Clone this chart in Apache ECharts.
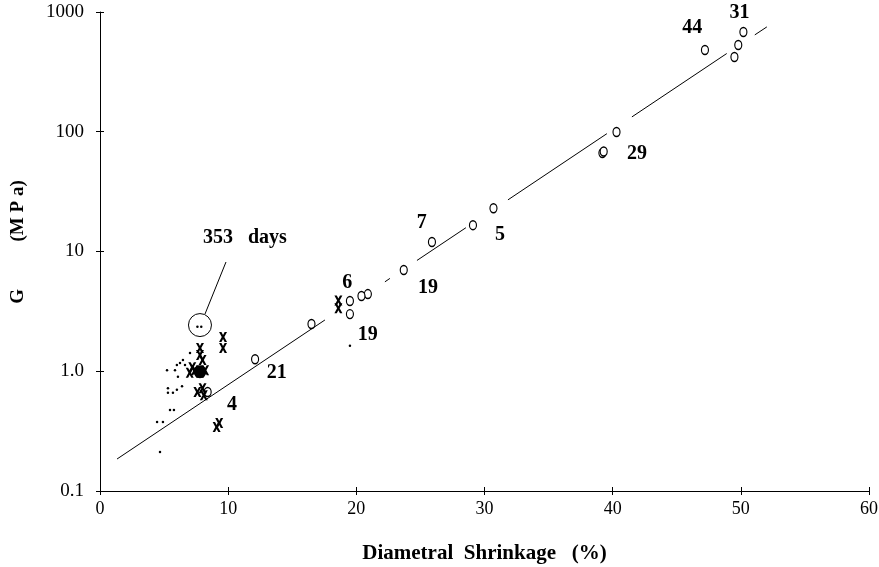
<!DOCTYPE html>
<html>
<head>
<meta charset="utf-8">
<script src="https://cdn.jsdelivr.net/npm/echarts@6/dist/echarts.min.js"></script>
<style>
  html, body { margin: 0; padding: 0; background: #fff; }
  #chart { width: 879px; height: 567px; }
</style>
</head>
<body>
<div id="chart"></div>
<script>
// open circles
const circleX = [47.2, 50.2, 49.8, 49.5, 40.3, 39.2, 39.3, 30.7, 29.1, 25.9, 23.7, 20.9, 20.4, 19.5, 19.5, 16.5, 12.1, 8.4]
const circleY = [482, 681, 530, 421, 99.6, 66.5, 68.5, 23, 16.6, 12.0, 7.0, 4.41, 4.25, 3.86, 3.0, 2.48, 1.26, 0.67]

// crosses
const crossX = [9.6, 9.6, 7.8, 7.8, 8.0, 7.2, 7.0, 7.8, 7.4, 8.2, 7.6, 8.1, 8.0, 9.1, 9.3, 18.6, 18.6]
const crossY = [1.93, 1.56, 1.56, 1.37, 1.24, 1.08, 0.97, 0.97, 1.02, 1.02, 0.67, 0.63, 0.72, 0.342, 0.37, 3.9, 3.36]

// solid blob of overlapping marks
const blobX = [7.8]
const blobY = [0.99]

// small dots
const dotX = [7.6, 7.9, 19.5, 7.02, 6.47, 6.24, 6.0, 6.63, 5.23, 5.85, 6.08, 5.3, 6.0, 6.4, 5.3, 5.69, 5.46, 5.77, 4.45, 4.91, 4.68]
const dotY = [2.35, 2.35, 1.63, 1.42, 1.24, 1.17, 1.13, 1.13, 1.02, 1.02, 0.90, 0.72, 0.70, 0.75, 0.66, 0.66, 0.474, 0.474, 0.377, 0.377, 0.212]

// fitted line, drawn in pieces as in the original
const fitSegments = [
  [[1.33, 0.185], [17.55, 2.68]],
  [[22.23, 5.58], [22.62, 5.96]],
  [[24.73, 8.42], [28.55, 15.8]],
  [[31.83, 27.0], [39.55, 96.4]],
  [[41.5, 133], [48.9, 450]],
  [[51.09, 644], [52.03, 751]]
]

// "353 days" callout
const ringPoint = [7.8, 2.43]
const leader = [[8.19, 3.0], [9.83, 8.17]]

// annotations
const labelText = ['44', '31', '29', '7', '5', '19', '6', '19', '21', '4', '353   days']
const labelX = [46.2, 49.9, 41.9, 25.1, 31.2, 25.6, 19.3, 20.9, 13.8, 10.3, 11.3]
const labelY = [735, 982, 65.2, 17.3, 13.7, 4.96, 5.45, 2.01, 0.97, 0.522, 12.97]

const yTickValues = [0.1, 1, 10, 100, 1000]
const yTickLabels = ['0.1', '1.0', '10', '100', '1000']

const font = 'Liberation Serif'
const crossPath = 'path://M0,0L3,0L5,3L7,0L10,0L6.6,5L10,10L7,10L5,7L3,10L0,10L3.4,5Z'

const zip = (xs, ys) => xs.map((x, i) => [x, ys[i]])

const chart = echarts.init(document.getElementById('chart'))

const series = []
fitSegments.forEach(seg => {
  series.push({
    type: 'line',
    data: seg,
    symbol: 'none',
    silent: true,
    lineStyle: { color: '#000', width: 1 }
  })
})
series.push({
  type: 'line',
  data: leader,
  symbol: 'none',
  silent: true,
  lineStyle: { color: '#000', width: 1 }
})
series.push({
  type: 'scatter',
  data: [ringPoint],
  symbol: 'circle',
  symbolSize: 23,
  itemStyle: { color: 'rgba(0,0,0,0)', borderColor: '#000', borderWidth: 1, opacity: 1 }
})
series.push({
  type: 'scatter',
  data: zip(circleX, circleY),
  symbol: 'circle',
  symbolSize: [7, 9],
  itemStyle: { color: '#fff', borderColor: '#000', borderWidth: 1.3, opacity: 1 }
})
series.push({
  type: 'scatter',
  data: zip(crossX, crossY),
  symbol: crossPath,
  symbolSize: [8, 10],
  itemStyle: { color: '#000', opacity: 1 }
})
series.push({
  type: 'scatter',
  data: zip(blobX, blobY),
  symbol: 'circle',
  symbolSize: 13,
  itemStyle: { color: '#000', opacity: 1 }
})
series.push({
  type: 'scatter',
  data: zip(dotX, dotY),
  symbol: 'circle',
  symbolSize: 2.5,
  itemStyle: { color: '#000', opacity: 1 }
})
series.push({
  type: 'scatter',
  data: labelText.map((t, i) => ({ name: t, value: [labelX[i], labelY[i]] })),
  symbolSize: 0,
  itemStyle: { opacity: 1 },
  label: {
    show: true,
    position: 'inside',
    formatter: p => p.name,
    color: '#000',
    fontFamily: font,
    fontWeight: 'bold',
    fontSize: 20
  }
})

const option = {
  animation: false,
  backgroundColor: '#fff',
  grid: {
    left: 100,
    right: 10,
    top: 12,
    bottom: 76,
    outerBoundsMode: 'none'
  },
  xAxis: [
    {
      type: 'value',
      min: 0,
      max: 60,
      interval: 10,
      position: 'bottom',
      name: 'Diametral  Shrinkage   (%)',
      nameLocation: 'middle',
      nameGap: 52,
      nameTextStyle: { color: '#000', fontFamily: font, fontWeight: 'bold', fontSize: 21 },
      axisLine: { lineStyle: { color: '#000', width: 1 } },
      axisTick: { inside: false, length: 4, lineStyle: { color: '#000' } },
      axisLabel: { color: '#000', fontFamily: font, fontSize: 18, margin: 9 },
      splitLine: { show: false }
    },
    {
      type: 'value',
      min: 0,
      max: 60,
      interval: 10,
      position: 'bottom',
      offset: 0,
      axisLine: { show: false },
      axisTick: { inside: true, length: 4, lineStyle: { color: '#000' } },
      axisLabel: { show: false },
      splitLine: { show: false }
    }
  ],
  yAxis: [
    {
      type: 'log',
      logBase: 10,
      min: 0.1,
      max: 1000,
      position: 'left',
      name: '    G          (M P a)',
      nameLocation: 'middle',
      nameGap: 72,
      nameRotate: 90,
      nameTextStyle: { color: '#000', fontFamily: font, fontWeight: 'bold', fontSize: 19 },
      axisLine: { lineStyle: { color: '#000', width: 1 } },
      axisTick: { inside: false, length: 4, lineStyle: { color: '#000' } },
      axisLabel: {
        color: '#000',
        fontFamily: font,
        fontSize: 19,
        margin: 16,
        formatter: v => {
          const i = yTickValues.findIndex(t => Math.abs(Math.log10(t) - Math.log10(v)) < 0.01)
          return i >= 0 ? yTickLabels[i] : ''
        }
      },
      splitLine: { show: false }
    },
    {
      type: 'log',
      logBase: 10,
      min: 0.1,
      max: 1000,
      position: 'left',
      offset: 0,
      axisLine: { show: false },
      axisTick: { inside: true, length: 4, lineStyle: { color: '#000' } },
      axisLabel: { show: false },
      splitLine: { show: false }
    }
  ],
  series: series
}

chart.setOption(option)
</script>
</body>
</html>
